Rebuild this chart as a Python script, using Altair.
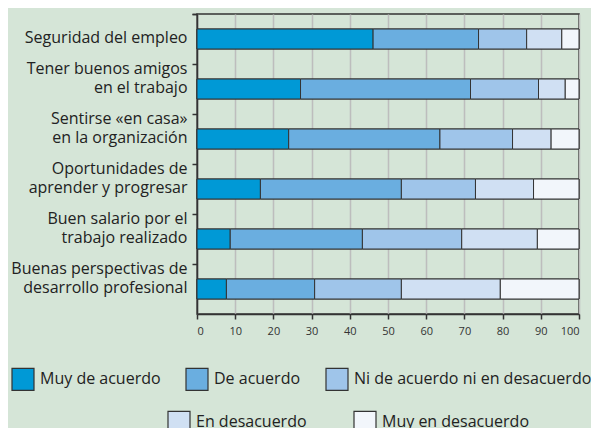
import altair as alt
import pandas as pd

categorias = [
    "Seguridad del empleo",
    "Tener buenos amigos\nen el trabajo",
    "Sentirse «en casa»\nen la organización",
    "Oportunidades de\naprender y progresar",
    "Buen salario por el\ntrabajo realizado",
    "Buenas perspectivas de\ndesarrollo profesional",
]
respuestas = [
    "Muy de acuerdo",
    "De acuerdo",
    "Ni de acuerdo ni en desacuerdo",
    "En desacuerdo",
    "Muy en desacuerdo",
]
muy_de_acuerdo = [46.1, 27.1, 24.0, 16.6, 8.7, 7.7]
de_acuerdo = [27.6, 44.5, 39.6, 36.9, 34.6, 23.1]
ni_ni = [12.6, 17.8, 19.0, 19.4, 26.0, 22.7]
en_desacuerdo = [9.2, 7.0, 10.1, 15.2, 19.8, 25.9]
muy_en_desacuerdo = [4.5, 3.6, 7.3, 11.9, 10.9, 20.6]
colores = ["#0099d6", "#6aaee0", "#9fc5ea", "#d0e0f3", "#f2f6fb"]
x_ticks = [0, 10, 20, 30, 40, 50, 60, 70, 80, 90, 100]

series = [muy_de_acuerdo, de_acuerdo, ni_ni, en_desacuerdo, muy_en_desacuerdo]
rows = []
for i, (resp, vals) in enumerate(zip(respuestas, series)):
    for cat, v in zip(categorias, vals):
        rows.append({"categoria": cat, "respuesta": resp, "orden": i, "valor": v})
df = pd.DataFrame(rows)

FONT = "Open Sans"
DARK = "#333333"

x_enc = alt.X(
    "valor:Q",
    stack="zero",
    title=None,
    scale=alt.Scale(domain=[0, 100], nice=False),
    axis=alt.Axis(
        values=x_ticks,
        grid=True,
        gridColor="#bdbdbd",
        gridWidth=1.5,
        tickSize=5,
        tickColor=DARK,
        tickWidth=1.5,
        domainColor=DARK,
        domainWidth=1.5,
        labelFontSize=11,
        labelColor="#333333",
        labelPadding=6,
        labelFont=FONT,
    ),
)
y_enc = alt.Y(
    "categoria:N",
    sort=categorias,
    title=None,
    scale=alt.Scale(paddingInner=0, paddingOuter=0),
    axis=alt.Axis(
        labelExpr="indexof(datum.label, '\\n') >= 0 ? split(datum.label, '\\n') : ['', datum.label]",
        bandPosition=0,
        tickExtra=True,
        tickSize=5,
        tickColor=DARK,
        tickWidth=1.5,
        domainColor=DARK,
        domainWidth=1.5,
        labelFontSize=16,
        labelLineHeight=19,
        labelColor="#222222",
        labelFont=FONT,
        labelPadding=5,
        labelBaseline="middle",
        labelOffset=-20,
        labelLimit=300,
    ),
)

legend_common = dict(
    title=None,
    orient="none",
    direction="horizontal",
    symbolType="square",
    symbolSize=484,
    symbolStrokeColor=DARK,
    symbolStrokeWidth=1.2,
    labelFontSize=16,
    labelFont=FONT,
    labelColor="#222222",
    labelOffset=5,
    labelLimit=400,
    padding=0,
)

base = alt.Chart(df)
capa1 = base.mark_bar(height=20, stroke=DARK, strokeWidth=1).encode(
    x=x_enc,
    y=y_enc,
    color=alt.Color(
        "respuesta:N",
        scale=alt.Scale(domain=respuestas, range=colores),
        legend=alt.Legend(values=respuestas[:3], legendX=-186, legendY=353,
                          columnPadding=22, **legend_common),
    ),
    order=alt.Order("orden:Q"),
)
capa2 = base.mark_bar(height=20, stroke=DARK, strokeWidth=1).encode(
    x=x_enc,
    y=y_enc,
    fill=alt.Fill(
        "respuesta:N",
        scale=alt.Scale(domain=respuestas[::-1], range=colores[::-1]),
        legend=alt.Legend(values=respuestas[3:], legendX=-30, legendY=396,
                          columnPadding=44, **legend_common),
    ),
    order=alt.Order("orden:Q"),
)

chart = alt.layer(capa1, capa2).properties(
    width=382,
    height=300,
    autosize=alt.AutoSizeParams(type="none"),
    padding={"left": 189, "top": 6, "right": 12, "bottom": 114},
    background="#d5e5d7",
).configure_view(stroke=DARK, strokeWidth=1.5)

chart.save("out.html", embed_options={"renderer": "svg", "actions": False})
